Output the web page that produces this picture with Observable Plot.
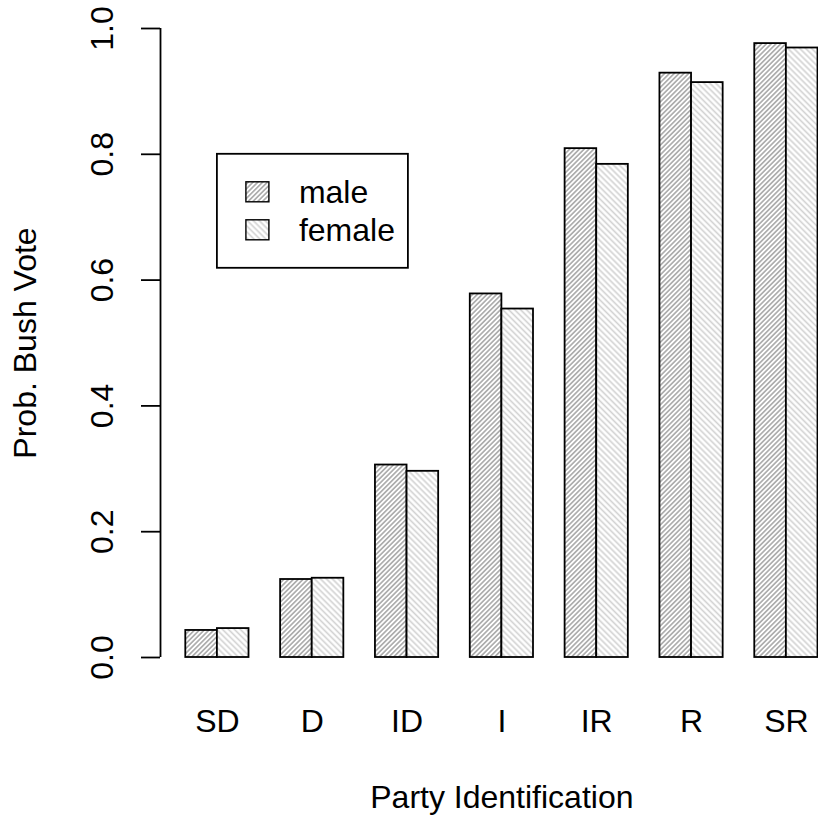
<!DOCTYPE html>
<html>
<head>
<meta charset="utf-8">
<script src="https://cdn.jsdelivr.net/npm/d3@7"></script>
<script src="https://cdn.jsdelivr.net/npm/@observablehq/plot@0.6"></script>
<style>
  html, body { margin: 0; padding: 0; background: #fff; overflow: hidden; }
  #chart svg { overflow: hidden; display: block; }
</style>
</head>
<body>
<div id="chart"></div>
<script>
// Party identification categories (x axis)
const parties = ["SD", "D", "ID", "I", "IR", "R", "SR"];
// Predicted probability of a Bush vote, by sex
const maleProb   = [0.043, 0.124, 0.306, 0.578, 0.809, 0.929, 0.976];
const femaleProb = [0.046, 0.126, 0.296, 0.554, 0.784, 0.914, 0.969];
const sexes = ["male", "female"];
const yTicks = [0, 0.2, 0.4, 0.6, 0.8, 1.0];

const FONT = "'Liberation Sans', Arial, Helvetica, sans-serif";
const FS = 32;

// Side-by-side bar layout in bar-width units: each group is a one-unit gap
// followed by two one-unit bars, the domain padded by 4% on either side.
const nUnits = parties.length * 3;
const pad = 0.04 * (nUnits - 1);
const xDomain = [1 - pad, nUnits + pad];
const unitPx = 31.61;
const xRange = [160, 160 + (xDomain[1] - xDomain[0]) * unitPx];

const series = {male: maleProb, female: femaleProb};
const rows = [];
parties.forEach((p, i) => {
  sexes.forEach((s, j) => {
    const x1 = 3 * i + 1 + j;
    rows.push({party: p, sex: s, value: series[s][i], x1, x2: x1 + 1});
  });
});
const groupCenters = parties.map((p, i) => 3 * i + 2);

const chart = Plot.plot({
  width: 818,
  height: 817,
  marginLeft: 160,
  marginRight: 0,
  marginTop: 28,
  marginBottom: 160,
  style: {fontFamily: FONT, fontSize: FS + "px", background: "#fff", color: "#000"},
  x: {domain: xDomain, range: xRange, axis: null},
  y: {domain: [0, 1], axis: null},
  color: {type: "ordinal", domain: sexes, range: ["url(#hatch-male)", "url(#hatch-female)"]},
  marks: [
    Plot.rect(rows, {x1: "x1", x2: "x2", y1: 0, y2: "value", fill: "sex", stroke: "#000", strokeWidth: 1.8}),
    // y axis: line, ticks and rotated labels
    Plot.ruleX([xDomain[0]], {y1: yTicks[0], y2: yTicks[yTicks.length - 1], stroke: "#000", strokeWidth: 1.8}),
    Plot.axisY({ticks: yTicks, tickSize: 19, tickFormat: () => "", label: null, strokeWidth: 1.8}),
    Plot.text(yTicks, {y: d => d, text: d => d.toFixed(1), frameAnchor: "left", dx: -58, rotate: -90, lineAnchor: "middle", textAnchor: "middle", fontSize: FS, fill: "#000"}),
    // x axis: category names below each group
    Plot.axisX({ticks: groupCenters, tickFormat: (d, i) => parties[i], tickSize: 0, tickPadding: 52, label: null, fontSize: FS}),
    // axis titles
    Plot.text(["Prob. Bush Vote"], {frameAnchor: "left", dx: -135, rotate: -90, lineAnchor: "middle", textAnchor: "middle", fontSize: FS, fill: "#000"}),
    Plot.text(["Party Identification"], {x: (xDomain[0] + xDomain[1]) / 2, frameAnchor: "bottom", dy: 150, lineAnchor: "bottom", textAnchor: "middle", fontSize: FS, fill: "#000"})
  ]
});

// Hatch patterns for the two series
const svg = d3.select(chart);
const defs = svg.insert("defs", ":first-child");
function hatch(id, angle, spacing, color, width) {
  const p = defs.append("pattern")
    .attr("id", id)
    .attr("patternUnits", "userSpaceOnUse")
    .attr("width", spacing)
    .attr("height", spacing)
    .attr("patternTransform", `rotate(${angle})`);
  p.append("rect").attr("width", spacing).attr("height", spacing).attr("fill", "#fff");
  p.append("line")
    .attr("x1", spacing / 2).attr("x2", spacing / 2)
    .attr("y1", -1).attr("y2", spacing + 1)
    .attr("stroke", color).attr("stroke-width", width);
}
hatch("hatch-male", 45, 3.4, "#a9a9a9", 1.6);
hatch("hatch-female", -45, 4.2, "#d2d2d2", 1.6);

// Legend anchored at (2, 0.8) in data coordinates
const sx = chart.scale("x"), sy = chart.scale("y");
const lx = sx.apply(2), ly = sy.apply(0.8);
const lg = svg.append("g")
  .attr("font-family", FONT)
  .attr("font-size", FS)
  .attr("text-anchor", "start");
lg.append("rect")
  .attr("x", lx).attr("y", ly).attr("width", 191).attr("height", 114)
  .attr("fill", "#fff").attr("stroke", "#000").attr("stroke-width", 1.8);
sexes.forEach((s, k) => {
  const top = ly + 28 + k * 38;
  lg.append("rect")
    .attr("x", lx + 29).attr("y", top).attr("width", 23).attr("height", 20)
    .attr("fill", chart.scale("color").apply(s)).attr("stroke", "#000").attr("stroke-width", 1.4);
  lg.append("text")
    .attr("x", lx + 82).attr("y", top + 21)
    .attr("fill", "#000")
    .text(s);
});

document.getElementById("chart").appendChild(chart);
</script>
</body>
</html>
